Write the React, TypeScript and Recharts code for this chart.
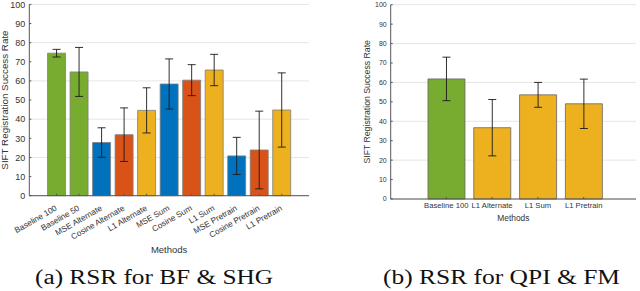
import { BarChart, Bar, XAxis, YAxis, CartesianGrid, Cell, ErrorBar, Label } from 'recharts';

// (a) BF & SHG
const methodsA = [
  'Baseline 100', 'Baseline 50', 'MSE Alternate', 'Cosine Alternate', 'L1 Alternate',
  'MSE Sum', 'Cosine Sum', 'L1 Sum', 'MSE Pretrain', 'Cosine Pretrain', 'L1 Pretrain',
];
const rateA = [74.5, 64.7, 27.8, 31.9, 44.6, 58.4, 60.4, 65.7, 20.8, 23.9, 44.8];
const stdA = [2.0, 12.8, 7.7, 14.0, 11.8, 13.1, 8.1, 8.2, 9.7, 20.3, 19.4];

// (b) QPI & FM
const methodsB = ['Baseline 100', 'L1 Alternate', 'L1 Sum', 'L1 Pretrain'];
const rateB = [61.8, 36.7, 53.6, 49.0];
const stdB = [11.2, 14.5, 6.4, 12.7];

const yTicks = [0, 10, 20, 30, 40, 50, 60, 70, 80, 90, 100];

const GREEN = '#77AC30';
const BLUE = '#0072BD';
const ORANGE = '#D95319';
const YELLOW = '#EDB120';
const AXIS = '#555555';
const TEXT = '#333333';
const SANS = '"Liberation Sans", Arial, sans-serif';

const colorFor = (name: string) => {
  if (name.startsWith('Baseline')) return GREEN;
  if (name.startsWith('MSE')) return BLUE;
  if (name.startsWith('Cosine')) return ORANGE;
  return YELLOW;
};

const dataA = methodsA.map((method, i) => ({ method, rate: rateA[i], std: stdA[i] }));
const dataB = methodsB.map((method, i) => ({ method, rate: rateB[i], std: stdB[i] }));

// slanted labels like matlab's xtickangle(30)
const RotatedTick = ({ x, y, payload }: any) => (
  <text
    x={x + 1}
    y={y}
    transform={`rotate(-30, ${x + 1}, ${y})`}
    textAnchor="end"
    fontFamily={SANS}
    fontSize={8.2}
    fill={TEXT}
  >
    {payload.value}
  </text>
);

const yTitle = (bx: number, size: number) => ({ viewBox }: any) => {
  const cy = viewBox.y + viewBox.height / 2;
  return (
    <text
      x={bx}
      y={cy}
      transform={`rotate(-90, ${bx}, ${cy})`}
      textAnchor="middle"
      fontFamily={SANS}
      fontSize={size}
      fill={TEXT}
    >
      SIFT Registration Success Rate
    </text>
  );
};

const xTitle = (y: number, size: number) => ({ viewBox }: any) => (
  <text
    x={viewBox.x + viewBox.width / 2}
    y={y}
    textAnchor="middle"
    fontFamily={SANS}
    fontSize={size}
    fill={TEXT}
  >
    Methods
  </text>
);

const ChartA = () => (
  <BarChart
    width={320}
    height={291}
    data={dataA}
    margin={{ top: 4.4, right: 11, bottom: 45.3, left: 0 }}
    barCategoryGap="10%"
  >
    <CartesianGrid vertical={false} stroke="#e6e6e6" />
    <XAxis
      dataKey="method"
      interval={0}
      padding={{ left: 16, right: 16 }}
      height={50}
      stroke={AXIS}
      tickSize={-2}
      tickMargin={16}
      tick={<RotatedTick />}
    >
      <Label content={xTitle(253, 9.5)} />
    </XAxis>
    <XAxis
      xAxisId="top"
      orientation="top"
      dataKey="method"
      interval={0}
      padding={{ left: 16, right: 16 }}
      height={0}
      stroke={AXIS}
      tickSize={-2}
      tick={false}
    />
    <YAxis
      domain={[0, 100]}
      ticks={yTicks}
      width={29.3}
      stroke={AXIS}
      tickSize={-2}
      tickMargin={6}
      tick={{ fontSize: 9, fill: TEXT, fontFamily: SANS }}
    >
      <Label content={yTitle(8, 9.8)} />
    </YAxis>
    <YAxis
      yAxisId="right"
      orientation="right"
      domain={[0, 100]}
      ticks={yTicks}
      width={0}
      stroke={AXIS}
      tickSize={-2}
      tick={false}
    />
    <Bar dataKey="rate" isAnimationActive={false} stroke="#7d7d7d" strokeWidth={0.8}>
      {dataA.map((d, i) => (
        <Cell key={`a-${i}`} fill={colorFor(d.method)} />
      ))}
      <ErrorBar dataKey="std" width={4} stroke="#1a1a1a" strokeWidth={0.9} direction="y" />
    </Bar>
  </BarChart>
);

const ChartB = () => (
  <BarChart
    width={320}
    height={291}
    data={dataB}
    margin={{ top: 4.7, right: 4, bottom: 62, left: 0 }}
    barCategoryGap="10%"
  >
    <CartesianGrid vertical={false} stroke="#e6e6e6" />
    <XAxis
      dataKey="method"
      interval={0}
      padding={{ left: 32.7, right: 29.4 }}
      height={30}
      stroke={AXIS}
      tickSize={-2}
      tickMargin={6}
      tick={{ fontSize: 7.7, fill: TEXT, fontFamily: SANS }}
    >
      <Label content={xTitle(221, 8.4)} />
    </XAxis>
    <XAxis
      xAxisId="top"
      orientation="top"
      dataKey="method"
      interval={0}
      padding={{ left: 32.7, right: 29.4 }}
      height={0}
      stroke={AXIS}
      tickSize={-2}
      tick={false}
    />
    <YAxis
      domain={[0, 100]}
      ticks={yTicks}
      width={70.7}
      stroke={AXIS}
      tickSize={-2}
      tickMargin={6}
      tick={{ fontSize: 7, fill: TEXT, fontFamily: SANS }}
    >
      <Label content={yTitle(49.7, 8.7)} />
    </YAxis>
    <YAxis
      yAxisId="right"
      orientation="right"
      domain={[0, 100]}
      ticks={yTicks}
      width={0}
      stroke={AXIS}
      tickSize={-2}
      tick={false}
    />
    <Bar dataKey="rate" isAnimationActive={false} stroke="#666666" strokeWidth={0.8}>
      {dataB.map((d, i) => (
        <Cell key={`b-${i}`} fill={colorFor(d.method)} />
      ))}
      <ErrorBar dataKey="std" width={4} stroke="#1a1a1a" strokeWidth={0.9} direction="y" />
    </Bar>
  </BarChart>
);

const App = () => (
  <div style={{ position: 'absolute', left: 0, top: 0, width: 640, height: 291, background: '#fff' }}>
    <div style={{ position: 'absolute', left: 0, top: 0 }}>
      <ChartA />
    </div>
    <div style={{ position: 'absolute', left: 320, top: 0 }}>
      <ChartB />
    </div>
    <svg width={640} height={291} style={{ position: 'absolute', left: 0, top: 0, pointerEvents: 'none' }}>
      <text x={154} y={284} textAnchor="middle" fontFamily='"Liberation Serif", serif' fontSize={20}
        textLength={238} lengthAdjust="spacingAndGlyphs" fill="#111">
        (a) RSR for BF &amp; SHG
      </text>
      <text x={501.5} y={284} textAnchor="middle" fontFamily='"Liberation Serif", serif' fontSize={20}
        textLength={237} lengthAdjust="spacingAndGlyphs" fill="#111">
        (b) RSR for QPI &amp; FM
      </text>
    </svg>
  </div>
);

export default App;
